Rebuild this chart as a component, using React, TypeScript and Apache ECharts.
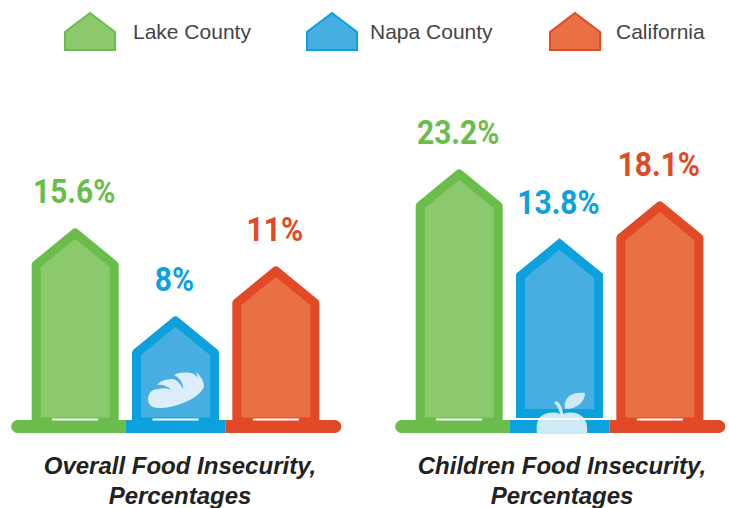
import React, { useEffect, useRef } from "react";
import * as echarts from "echarts";

const categories = ["Lake County", "Napa County", "California"];
const colors = ["#6abd4b", "#0ca1dd", "#e24926"];
const fills = ["#8bc96c", "#47aee2", "#e97044"];
const overallLabels = ["15.6%", "8%", "11%"];
const childrenLabels = ["23.2%", "13.8%", "18.1%"];
// Picture is not drawn to scale: these are the heights.
const overallHeights = [193, 105, 155];
const childrenHeights = [252, 182, 220];
const titles = ["Overall Food Insecurity,\nPercentages", "Children Food Insecurity,\nPercentages"];

const housePath = "path://M25 0 L50 19 L50 37 L0 37 L0 19 Z";
const breadD =
  "M148 398C149 392 153 389 158 389C162 388 167 388 171 390C168 386 162 384 157 385C160 381 166 379 173 379C177 380 181 384 183 389C184 384 180 378 174 375C180 372 188 372 194 374C197 376 198 378 197 379C198 377 197 374 196 372C200 375 204 381 204 386C203 391 196 398 183 403C171 408 159 409 153 407C149 405 148 402 148 398Z";
const appleD =
  "M537 434C536 425 537 418 543 415C549 412 555 412 560 414C559 409 557 405 554 403C555 401 557 401 558 402C561 405 563 410 563 414C568 412 575 412 580 415C586 418 588 425 587 434Z";
const leafD = "M565 409C563 399 570 391 585 393C585 401 578 409 565 409Z";
echarts.graphic.registerShape("bread", echarts.graphic.extendPath(breadD, {}) as any);
echarts.graphic.registerShape("apple", echarts.graphic.extendPath(appleD, {}) as any);
echarts.graphic.registerShape("leaf", echarts.graphic.extendPath(leafD, {}) as any);

function makeRender(idx: number, label: string, closedBottom: boolean) {
  return (_p: any, api: any) => {
    const top = api.coord([idx, api.value(1)]);
    const base = api.coord([idx, 0]);
    const band = api.size([1, 0])[0];
    const cx = top[0];
    const half = 39;
    const apexY = top[1] + 6;
    const shoulderY = top[1] + 38;
    const left = idx === 0 ? cx - 64 : cx - band / 2;
    const right = idx === 2 ? cx + 65.5 : idx === 0 ? cx + 50.25 : cx + band / 2;
    const bottomY = closedBottom ? base[1] - 6.5 : base[1] + 2;
    return {
      type: "group",
      children: [
        {
          type: "polygon",
          shape: { points: [[cx, apexY], [cx + half, shoulderY], [cx + half, bottomY], [cx - half, bottomY], [cx - half, shoulderY]] },
          style: { fill: fills[idx], stroke: colors[idx], lineWidth: 9, lineJoin: closedBottom ? "miter" : "round" },
        },
        {
          type: "rect",
          shape: {
            x: left, y: base[1], width: right - left, height: 13,
            r: idx === 0 ? [6.5, 0, 0, 6.5] : idx === 2 ? [0, 6.5, 6.5, 0] : 0,
          },
          style: { fill: colors[idx] },
        },
        {
          type: "rect",
          shape: closedBottom
            ? { x: cx - 44, y: base[1] - 2, width: 88, height: 2 }
            : { x: cx - 23, y: base[1] - 1.5, width: 46, height: 2 },
          style: { fill: "#ffffff" },
        },
        {
          type: "text",
          x: cx - 1,
          y: top[1] - 36,
          scaleX: 0.88,
          style: {
            text: label,
            font: "bold 34px Roboto",
            fill: colors[idx],
            align: "center",
            verticalAlign: "middle",
          },
        },
      ],
    };
  };
}

function seriesFor(grid: number, heights: number[], labels: string[]) {
  return categories.map((name, i) => ({
    type: "custom",
    name,
    xAxisIndex: grid,
    yAxisIndex: grid,
    itemStyle: { color: fills[i], borderColor: colors[i], borderWidth: 4 },
    encode: { x: 0, y: 1 },
    data: [[i, heights[i]]],
    renderItem: makeRender(i, labels[i], grid === 1 && i === 1),
  }));
}

const legendSlots = [
  { left: 64, pad: 13 },
  { left: 306, pad: 8 },
  { left: 549, pad: 11 },
];

export default function App() {
  const ref = useRef<HTMLDivElement>(null);
  useEffect(() => {
    const chart = echarts.init(ref.current!, undefined, { renderer: "svg" });
    const hiddenY = { type: "value", min: 0, max: 400, show: false };
    const hiddenX = { type: "category", data: categories, show: false };
    chart.setOption({
      animation: false,
      backgroundColor: "#ffffff",
      grid: [
        { left: 25, width: 301, top: 20, height: 400 },
        { left: 409, width: 301, top: 20, height: 400 },
      ],
      xAxis: [{ ...hiddenX, gridIndex: 0 }, { ...hiddenX, gridIndex: 1 }],
      yAxis: [{ ...hiddenY, gridIndex: 0 }, { ...hiddenY, gridIndex: 1 }],
      legend: categories.map((name, i) => ({
        data: [name],
        left: legendSlots[i].left,
        top: 12,
        padding: 0,
        icon: housePath,
        itemWidth: 50,
        itemHeight: 37,
        selectedMode: false,
        textStyle: {
          fontFamily: "Liberation Sans",
          fontSize: 21,
          color: "#444444",
          padding: [0, 0, 0, legendSlots[i].pad],
        },
      })),
      title: titles.map((text, i) => ({
        text,
        left: i === 0 ? 180 : 562,
        top: 450,
        textAlign: "center",
        padding: 0,
        textStyle: {
          fontFamily: "Liberation Sans",
          fontWeight: "bold",
          fontStyle: "italic",
          fontSize: 24,
          lineHeight: 30,
          color: "#222222",
        },
      })),
      series: [...seriesFor(0, overallHeights, overallLabels), ...seriesFor(1, childrenHeights, childrenLabels)],
      graphic: [
        { type: "bread", z: 100, style: { fill: "#dbeef9" } },
        { type: "apple", z: 100, style: { fill: "#cfeaf7" } },
        { type: "leaf", z: 100, style: { fill: "#cfeaf7" } },
        { type: "rect", z: 101, shape: { x: 517, y: 418, width: 87, height: 2 }, style: { fill: "#ffffff" } },
      ],
    });
    return () => chart.dispose();
  }, []);
  return <div ref={ref} style={{ width: 729, height: 508, position: "absolute", left: 0, top: 0 }} />;
}
